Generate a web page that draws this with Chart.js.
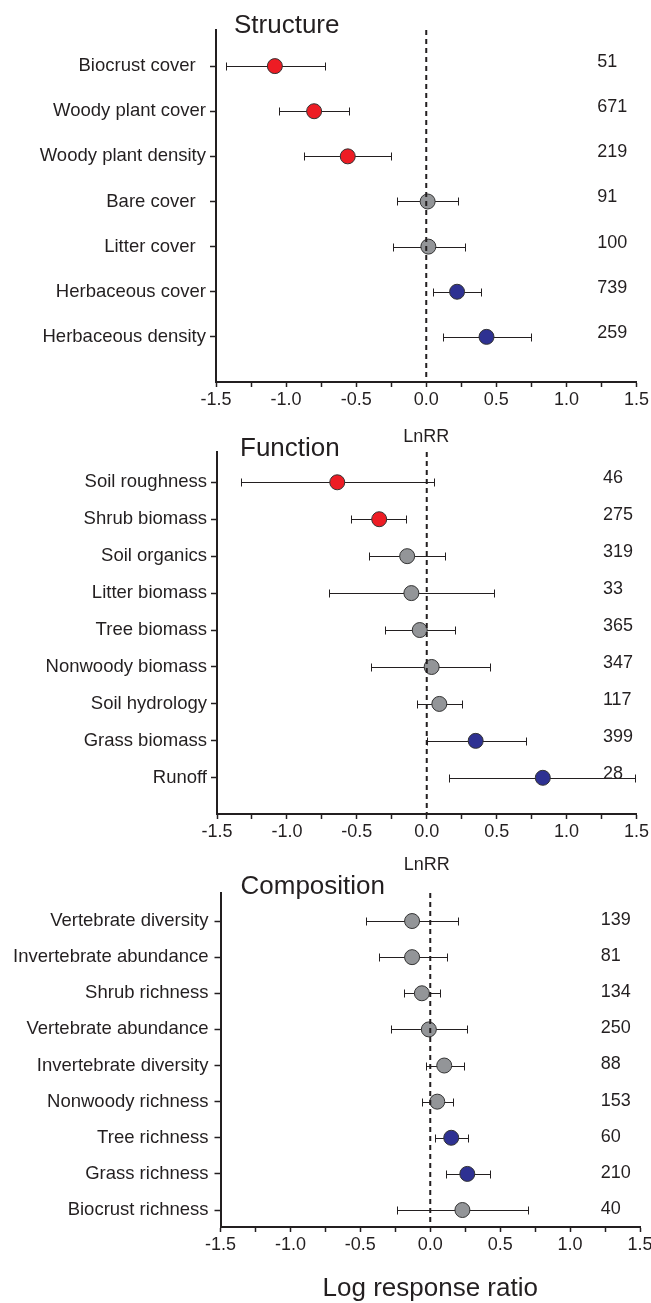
<!DOCTYPE html>
<html>
<head>
<meta charset="utf-8">
<script src="https://cdn.jsdelivr.net/npm/chart.js@4.4.1/dist/chart.umd.min.js"></script>
<style>
    html, body { margin: 0; padding: 0; background: #fff; overflow: hidden; }
    body { width: 651px; height: 1303px; position: relative; }
    canvas { position: absolute; left: 0; }
</style>
</head>
<body>
<canvas id="structureChart" width="651" height="448" style="top:0px"></canvas>
<canvas id="functionChart" width="651" height="456" style="top:420px"></canvas>
<canvas id="compositionChart" width="656" height="444" style="top:860px"></canvas>
<script>
// Structure
const structLabels = ["Biocrust cover  ", "Woody plant cover", "Woody plant density", "Bare cover  ", "Litter cover  ", "Herbaceous cover", "Herbaceous density"];
const structMean = [-1.08, -0.80, -0.56, 0.01, 0.015, 0.22, 0.43];
const structLow = [-1.43, -1.05, -0.87, -0.21, -0.24, 0.045, 0.12];
const structHigh = [-0.72, -0.55, -0.25, 0.23, 0.28, 0.39, 0.75];
const structN = [51, 671, 219, 91, 100, 739, 259];
const structEffect = ["-", "-", "-", "0", "0", "+", "+"];

// Function
const funcLabels = ["Soil roughness", "Shrub biomass", "Soil organics", "Litter biomass", "Tree biomass", "Nonwoody biomass", "Soil hydrology", "Grass biomass", "Runoff"];
const funcMean = [-0.64, -0.34, -0.14, -0.11, -0.05, 0.035, 0.09, 0.35, 0.83];
const funcLow = [-1.33, -0.54, -0.41, -0.70, -0.30, -0.40, -0.07, 0.0, 0.16];
const funcHigh = [0.05, -0.15, 0.13, 0.48, 0.20, 0.45, 0.25, 0.71, 1.49];
const funcN = [46, 275, 319, 33, 365, 347, 117, 399, 28];
const funcEffect = ["-", "-", "0", "0", "0", "0", "0", "+", "+"];

// Composition
const compLabels = ["Vertebrate diversity", "Invertebrate abundance", "Shrub richness", "Vertebrate abundance", "Invertebrate diversity", "Nonwoody richness", "Tree richness", "Grass richness", "Biocrust richness"];
const compMean = [-0.13, -0.13, -0.06, -0.01, 0.10, 0.05, 0.15, 0.265, 0.23];
const compLow = [-0.46, -0.37, -0.19, -0.28, -0.03, -0.06, 0.036, 0.11, -0.24];
const compHigh = [0.20, 0.12, 0.07, 0.26, 0.24, 0.16, 0.27, 0.43, 0.70];
const compN = [139, 81, 134, 250, 88, 153, 60, 210, 40];
const compEffect = ["0", "0", "0", "0", "0", "0", "+", "+", "0"];

const xTicks = [-1.5, -1.0, -0.5, 0.0, 0.5, 1.0, 1.5];

const ink = "#231f20";
const family = "'Liberation Sans', Arial, sans-serif";
const effectColor = { "-": "#ed1c24", "0": "#939598", "+": "#2e3192" };

function makePanel(id, p) {
    const rows = p.labels.map((_, i) => i + 1);

    const forest = {
        id: "forest",
        beforeDatasetsDraw(chart) {
            const { ctx, scales: { x, y } } = chart;
            ctx.save();
            ctx.strokeStyle = ink;
            ctx.lineWidth = 1;
            p.low.forEach((lo, i) => {
                const py = Math.round(y.getPixelForValue(rows[i])) + 0.5;
                const x0 = Math.round(x.getPixelForValue(lo)) + 0.5;
                const x1 = Math.round(x.getPixelForValue(p.high[i])) + 0.5;
                ctx.beginPath();
                ctx.moveTo(x0, py); ctx.lineTo(x1, py);
                ctx.moveTo(x0, py - 4); ctx.lineTo(x0, py + 4);
                ctx.moveTo(x1, py - 4); ctx.lineTo(x1, py + 4);
                ctx.stroke();
            });
            ctx.restore();
        },
        afterDatasetsDraw(chart) {
            const { ctx, chartArea, scales: { x, y } } = chart;
            ctx.save();
            // zero line
            const zx = x.getPixelForValue(0);
            ctx.strokeStyle = ink;
            ctx.lineWidth = 2;
            ctx.setLineDash([5, 4]);
            ctx.beginPath();
            ctx.moveTo(zx, chartArea.top);
            ctx.lineTo(zx, chartArea.bottom);
            ctx.stroke();
            ctx.setLineDash([]);

            // sample sizes
            ctx.fillStyle = ink;
            ctx.font = "18px " + family;
            ctx.textAlign = "left";
            ctx.textBaseline = "middle";
            p.n.forEach((n, i) => {
                ctx.fillText(String(n), x.getPixelForValue(p.countAt), y.getPixelForValue(rows[i]) - p.countLift);
            });

            // panel title
            ctx.font = "26px " + family;
            ctx.textBaseline = "alphabetic";
            ctx.fillText(p.title, chartArea.left + p.titleDx, chartArea.top + p.titleDy);
            ctx.restore();
        },
    };

    new Chart(document.getElementById(id).getContext("2d"), {
        type: "scatter",
        data: {
            datasets: [
                {
                    data: p.mean.map((m, i) => ({ x: m, y: rows[i] })),
                    pointRadius: 7.5,
                    pointHoverRadius: 7.5,
                    pointBackgroundColor: p.effect.map((e) => effectColor[e]),
                    pointBorderColor: "#333333",
                    pointBorderWidth: 1,
                    showLine: false,
                },
            ],
        },
        options: {
            responsive: false,
            devicePixelRatio: 1,
            animation: false,
            events: [],
            layout: { padding: { left: 0, right: p.padRight, top: p.top, bottom: 0 } },
            plugins: { legend: { display: false }, tooltip: { enabled: false } },
            scales: {
                x: {
                    type: "linear",
                    min: -1.5,
                    max: 1.5,
                    afterFit: (s) => { s.height = p.xAxisHeight; },
                    border: { display: true, color: ink, width: 2 },
                    grid: { drawOnChartArea: false, drawTicks: true, tickLength: 5, tickColor: ink, tickWidth: 1.5 },
                    ticks: {
                        stepSize: 0.25,
                        autoSkip: false,
                        maxRotation: 0,
                        color: ink,
                        padding: 2,
                        font: { size: 18, family },
                        callback: (v) => {
                            const t = xTicks.find((k) => Math.abs(k - v) < 1e-6);
                            return t === undefined ? "" : t.toFixed(1);
                        },
                    },
                    title: { display: true, text: p.xTitle, color: ink, padding: 0, font: { size: p.xTitleSize, family } },
                },
                y: {
                    type: "linear",
                    reverse: true,
                    min: p.yMin,
                    max: p.yMax,
                    afterFit: (s) => { s.width = p.left; },
                    afterBuildTicks: (s) => { s.ticks = rows.map((r) => ({ value: r })); },
                    border: { display: true, color: ink, width: 2 },
                    grid: { drawOnChartArea: false, drawTicks: true, tickLength: 6, tickColor: ink, tickWidth: 1.5 },
                    ticks: {
                        autoSkip: false,
                        color: ink,
                        padding: p.labelGap,
                        font: { size: 18.5, family },
                        callback: (v) => p.labels[v - 1] || "",
                    },
                },
            },
        },
        plugins: [forest],
    });
}

makePanel("structureChart", {
    title: "Structure", labels: structLabels, mean: structMean, low: structLow, high: structHigh, n: structN, effect: structEffect,
    left: 216, padRight: 14, top: 30, xAxisHeight: 66, yMin: 0.2, yMax: 8, labelGap: 4,
    xTitle: "LnRR", xTitleSize: 18, countAt: 1.22, countLift: 4, titleDx: 18, titleDy: 3,
});

makePanel("functionChart", {
    title: "Function", labels: funcLabels, mean: funcMean, low: funcLow, high: funcHigh, n: funcN, effect: funcEffect,
    left: 217, padRight: 14, top: 32, xAxisHeight: 62, yMin: 0.18, yMax: 9.98, labelGap: 4,
    xTitle: "LnRR", xTitleSize: 18, countAt: 1.26, countLift: 4, titleDx: 23, titleDy: 4,
});

makePanel("compositionChart", {
    title: "Composition", labels: compLabels, mean: compMean, low: compLow, high: compHigh, n: compN, effect: compEffect,
    left: 220.5, padRight: 16, top: 33, xAxisHeight: 77, yMin: 0.224, yMax: 9.47, labelGap: 6,
    xTitle: "Log response ratio", xTitleSize: 26, countAt: 1.22, countLift: 1, titleDx: 20, titleDy: 1,
});
</script>
</body>
</html>
